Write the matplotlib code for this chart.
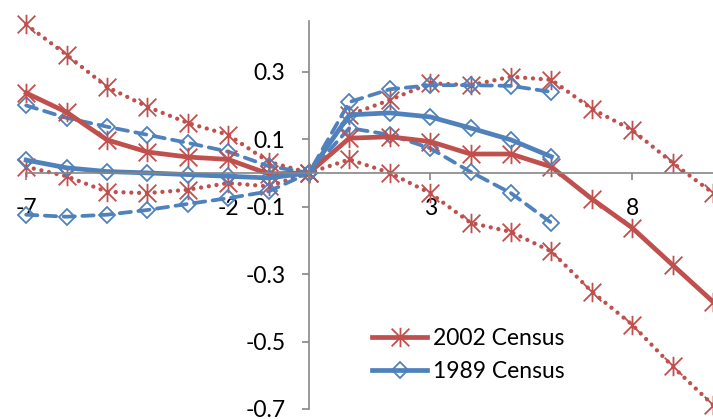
import matplotlib.pyplot as plt
from matplotlib.path import Path

# x positions
x_2002 = [-7, -6, -5, -4, -3, -2, -1, 0, 1, 2, 3, 4, 5, 6, 7, 8, 9, 10]
x_1989 = [-7, -6, -5, -4, -3, -2, -1, 0, 1, 2, 3, 4, 5, 6]

# 2002 census estimate and bounds
c2002 = [0.237, 0.18, 0.098, 0.062, 0.047, 0.04, -0.003, 0.0, 0.103, 0.107, 0.093,
         0.056, 0.056, 0.018, -0.077, -0.163, -0.273, -0.382]
c2002_hi = [0.44, 0.35, 0.255, 0.196, 0.148, 0.113, 0.033, 0.0, 0.172, 0.216, 0.266,
            0.26, 0.285, 0.276, 0.19, 0.127, 0.03, -0.06]
c2002_lo = [0.018, -0.01, -0.056, -0.06, -0.05, -0.03, -0.04, 0.0, 0.04, 0.0, -0.06,
            -0.148, -0.175, -0.233, -0.352, -0.45, -0.574, -0.688]

# 1989 census estimate and bounds
c1989 = [0.038, 0.015, 0.004, 0.0, -0.005, -0.01, -0.015, 0.0, 0.172, 0.178, 0.166,
         0.133, 0.098, 0.048]
c1989_hi = [0.2, 0.163, 0.137, 0.113, 0.089, 0.063, 0.02, 0.0, 0.21, 0.248, 0.26,
            0.26, 0.258, 0.24]
c1989_lo = [-0.124, -0.13, -0.124, -0.11, -0.092, -0.075, -0.055, 0.0, 0.133, 0.113,
            0.073, 0.003, -0.06, -0.148]

xticks = [-7, -2, 3, 8]
yticks = [-0.7, -0.5, -0.3, -0.1, 0.1, 0.3]

RED = '#C0504D'
BLUE = '#4F81BD'
GREY = '#868686'

plt.rcParams['font.family'] = ['Lato', 'DejaVu Sans']

star = Path([(-0.5, -0.5), (0.5, 0.5), (-0.5, 0.5), (0.5, -0.5), (0, -0.55), (0, 0.55)],
            [Path.MOVETO, Path.LINETO, Path.MOVETO, Path.LINETO, Path.MOVETO, Path.LINETO])

fig = plt.figure(figsize=(7.13, 4.19), dpi=100)
ax = fig.add_axes([0.0367, 0.0239, 0.9633, 0.9257])

dot = dict(linestyle=(0, (0.01, 1.8)), dash_capstyle='round', lw=3.1)
dash = dict(linestyle=(0, (3.0, 2.0)), dash_capstyle='round', lw=2.7)
star_kw = dict(marker=star, markersize=14, mfc='none', mec=RED, mew=1.3)
dia_kw = dict(marker='D', markersize=8.3, mfc='none', mec=BLUE, mew=1.3)

ax.plot(x_2002, c2002_hi, color=RED, clip_on=False, **dot, **star_kw)
ax.plot(x_2002, c2002_lo, color=RED, clip_on=False, **dot, **star_kw)
ax.plot(x_1989, c1989_hi, color=BLUE, clip_on=False, **dash, **dia_kw)
ax.plot(x_1989, c1989_lo, color=BLUE, clip_on=False, **dash, **dia_kw)
ax.plot(x_2002, c2002, color=RED, lw=3.4, clip_on=False, label='2002 Census', **star_kw)
ax.plot(x_1989, c1989, color=BLUE, lw=3.4, clip_on=False, label='1989 Census', **dia_kw)

ax.set_xlim(-7, 10)
ax.set_ylim(-0.7, 0.45)
ax.set_xticks(xticks)
ax.set_xticklabels([str(v) for v in xticks])
ax.set_yticks(yticks)
ax.set_yticklabels([f'{v:.1f}' for v in yticks])

for side in ['top', 'right']:
    ax.spines[side].set_visible(False)
ax.spines['left'].set_position(('data', 0))
ax.spines['bottom'].set_position(('data', 0))
for side in ['left', 'bottom']:
    ax.spines[side].set_color(GREY)
    ax.spines[side].set_linewidth(1.2)
ax.tick_params(axis='both', colors=GREY, labelcolor='black', length=5, width=1.2,
               labelsize=16.5)
ax.tick_params(axis='x', pad=13)
ax.tick_params(axis='y', pad=12)
ax.patch.set_alpha(0)

ax.legend(loc='center left', bbox_to_anchor=(372 / 713, 1 - 355 / 419),
          bbox_transform=fig.transFigure, frameon=False, fontsize=16.5,
          handlelength=2.4, handletextpad=0.25, labelspacing=0.55,
          borderpad=0, borderaxespad=0)

fig.savefig('out.png', dpi=100)
